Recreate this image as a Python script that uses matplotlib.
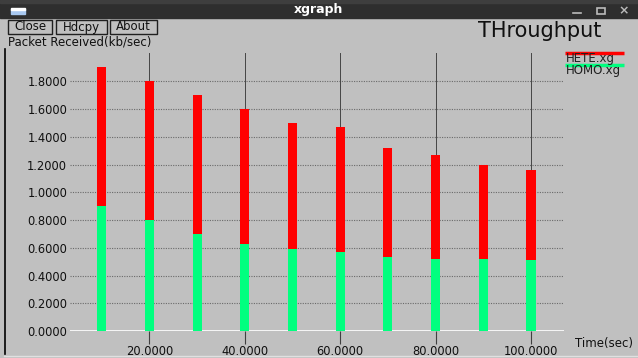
import numpy as np
import matplotlib
matplotlib.use("Agg")
import matplotlib.pyplot as plt
from matplotlib.patches import Rectangle

# throughput per 10 s interval, kb/sec
times = [10, 20, 30, 40, 50, 60, 70, 80, 90, 100]
hete = [1.90, 1.80, 1.70, 1.60, 1.50, 1.47, 1.32, 1.27, 1.20, 1.16]
homo = [0.90, 0.80, 0.70, 0.63, 0.59, 0.57, 0.53, 0.52, 0.52, 0.51]
yticks = [0.0, 0.2, 0.4, 0.6, 0.8, 1.0, 1.2, 1.4, 1.6, 1.8]
xticks = [20, 40, 60, 80, 100]

W, H = 638, 358
plt.rcParams['font.family'] = ['DejaVu Sans']
fig = plt.figure(figsize=(W / 100, H / 100), dpi=100)
fig.patch.set_facecolor('#c0c0c0')

# window chrome, pixel coordinates
bg = fig.add_axes([0, 0, 1, 1])
bg.set_xlim(0, W)
bg.set_ylim(H, 0)
bg.axis('off')
bg.add_patch(Rectangle((0, 0), W, 18, color='#2e2e2e'))
bg.add_patch(Rectangle((0, 0), W, 3, color='#3e3e3e'))
bg.add_patch(Rectangle((11, 9), 14, 5, color='#a8c8f0'))
bg.add_patch(Rectangle((11, 8), 14, 1.5, color='#ffffff'))
bg.text(319, 10, 'xgraph', color='white', fontsize=9, fontweight='bold',
        ha='center', va='center')
bg.plot([573, 581], [13, 13], color='#bbbbbb', lw=1.2)
bg.add_patch(Rectangle((597, 8), 8, 6, fill=False, ec='#bbbbbb', lw=1.2))
bg.text(624, 11, '×', color='#bbbbbb', fontsize=9, ha='center', va='center',
        fontweight='bold')

for x0, x1, label in [(8, 52, 'Close'), (56, 107, 'Hdcpy'), (110, 157, 'About')]:
    bg.add_patch(Rectangle((x0, 19.5), x1 - x0, 14, fill=False, ec='#202020', lw=1))
    bg.text((x0 + x1) / 2, 27, label, fontsize=8.5, ha='center', va='center',
            color='#101010')

bg.plot([4.5, 4.5], [49, 354], color='black', lw=1.2)
bg.plot([4, W], [356, 356], color='#e0e0e0', lw=1)

bg.text(8, 42, 'Packet Received(kb/sec)', fontsize=8.5, ha='left', va='center',
        color='#101010')
bg.text(540, 31, 'THroughput', fontsize=15, ha='center', va='center',
        color='#101010')
bg.text(575, 343, 'Time(sec)', fontsize=8.5, ha='left', va='center',
        color='#101010')

# legend
bg.plot([565, 624], [53, 53], color='#ff0000', lw=2.5, solid_capstyle='butt')
bg.text(566, 58.5, 'HETE.xg', fontsize=8.5, ha='left', va='center', color='#202020')
bg.plot([565, 624], [65, 65], color='#00ff7f', lw=2.5, solid_capstyle='butt')
bg.text(566, 70.5, 'HOMO.xg', fontsize=8.5, ha='left', va='center', color='#202020')

# plot area: x=0 at 54px, 4.77 px per sec; y=0 at 331px, 138.7 px per unit
left, right, top, bottom = 70, 564, 53, 331
ax = fig.add_axes([left / W, (H - bottom) / H, (right - left) / W, (bottom - top) / H])
ax.set_xlim((left - 54) / 4.77, (right - 54) / 4.77)
ax.set_ylim(0, (bottom - top) / 138.7)
ax.patch.set_alpha(0)
for s in ax.spines.values():
    s.set_visible(False)

for y in yticks[1:]:
    ax.axhline(y, color='#6a6a6a', lw=0.8, ls=(0, (1, 1.2)), zorder=1)
for x in xticks:
    ax.axvline(x, color='#454545', lw=0.7, zorder=1)
ax.axhline(0, color='white', lw=1.2, zorder=1)

ax.bar(times, hete, width=1.9, color='#ff0000', zorder=2)
ax.bar(times, homo, width=1.9, color='#00ff7f', zorder=3)

ax.set_yticks(yticks)
ax.set_yticklabels(['%.4f' % v for v in yticks])
ax.set_xticks(xticks)
ax.set_xticklabels(['%.4f' % v for v in xticks])
ax.tick_params(axis='y', length=0, pad=2, labelsize=8.3, labelcolor='#101010')
ax.tick_params(axis='x', direction='out', length=9.5, width=0.8, color='#404040',
               pad=0.5, labelsize=8.3, labelcolor='#101010')

fig.savefig('out.png', dpi=100, facecolor=fig.get_facecolor())
